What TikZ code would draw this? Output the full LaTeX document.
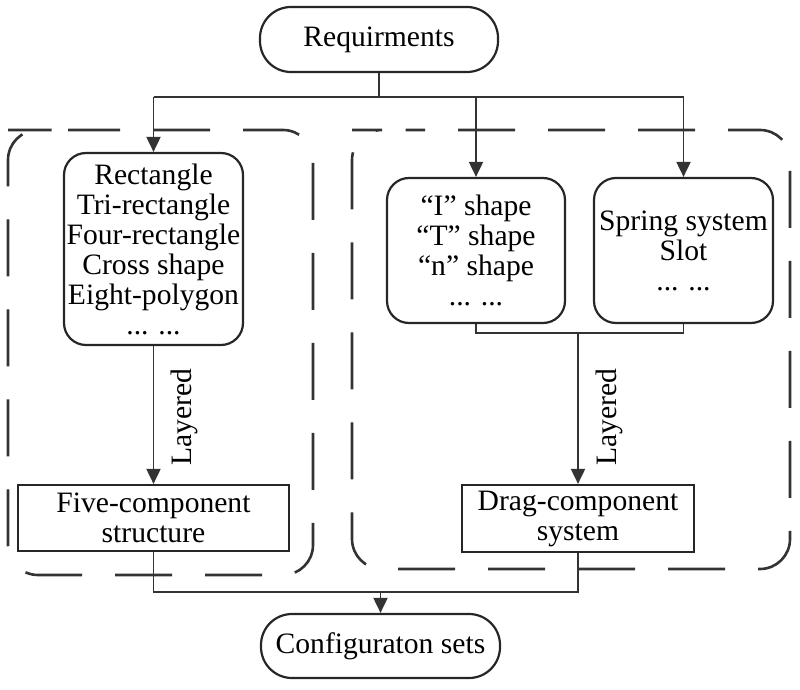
\documentclass[tikz,border=0pt]{standalone}
\usepackage{fontspec}
\setmainfont{Liberation Serif}
\usetikzlibrary{arrows.meta}
\begin{document}
\begin{tikzpicture}[x=1pt,y=-1pt,
  every node/.style={font=\fontsize{29.6}{30}\selectfont, inner sep=0pt, align=center, text=black},
  pill/.style={draw=black!85, line width=2.2pt, rounded corners=31pt},
  rbox/.style={draw=black!85, line width=2.2pt, rounded corners=22pt},
  sbox/.style={draw=black!85, line width=2.2pt},
  conn/.style={draw=black!80, line width=1.9pt},
  arr/.style={conn, -{Triangle[length=15pt,width=14pt]}},
  region/.style={draw=black!80, line width=2.6pt, dash pattern=on 57pt off 33pt, rounded corners=30pt}
]
\useasboundingbox (0,0) rectangle (800,690);
% dashed regions
\draw[region, dash phase=5pt] (38,130) -- (313,130) -- (313,575) -- (8,575) -- (8,130) -- cycle;
\draw[region, dash phase=44pt] (382,130) -- (790,130) -- (790,569) -- (352,569) -- (352,130) -- cycle;
% nodes
\node[pill, minimum width=238pt, minimum height=65pt] (req) at (379,39.5) {Requirments};
\node[rbox, minimum width=179pt, minimum height=192pt] (A) at (153.5,249) {Rectangle\\Tri-rectangle\\Four-rectangle\\Cross shape\\Eight-polygon\\... ...};
\node[rbox, minimum width=178pt, minimum height=145pt] (B) at (476,250.5) {“I” shape\\“T” shape\\“n” shape\\... ...};
\node[rbox, minimum width=179pt, minimum height=145pt] (C) at (683.5,250.5) {Spring system\\Slot\\... ...};
\node[sbox, minimum width=271pt, minimum height=66pt] (D) at (153.5,518) {Five-component\\structure};
\node[sbox, minimum width=232pt, minimum height=67pt] (E) at (578,518.5) {Drag-component\\system};
\node[pill, minimum width=239pt, minimum height=64pt] (F) at (380.5,646) {Configuraton sets};
% coordinates
\coordinate (top) at (379,97);
\coordinate (topL) at (153.5,97);
\coordinate (topR) at (683.5,97);
\coordinate (topM) at (476,97);
\coordinate (midB) at (476,333);
\coordinate (midC) at (683.5,333);
\coordinate (midJ) at (578,333);
\coordinate (botL) at (153.5,592);
\coordinate (botR) at (578,592);
\coordinate (botJ) at (380.5,592);
% connectors
\draw[conn] (req.south) -- (top);
\draw[conn] (topL) -- (topR);
\draw[arr] (topL) -- (A.north);
\draw[arr] (topM) -- (B.north);
\draw[arr] (topR) -- (C.north);
\draw[conn] (B.south) -- (midB) -- (midC) -- (C.south);
\draw[arr] (A.south) -- (D.north);
\draw[arr] (midJ) -- (E.north);
\draw[conn] (D.south) -- (botL) -- (botR) -- (E.south);
\draw[arr] (botJ) -- (F.north);
% labels
\node[rotate=90] (lab1) at (184,417) {Layered};
\node[rotate=90] (lab2) at (609,417) {Layered};
\end{tikzpicture}
\end{document}
